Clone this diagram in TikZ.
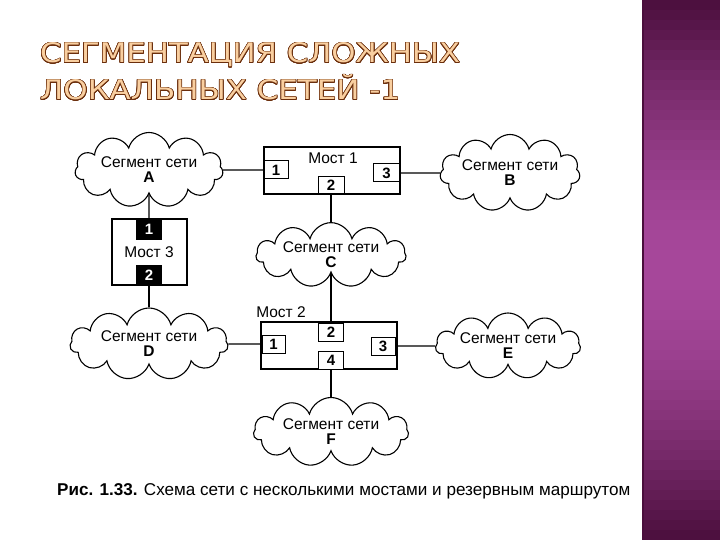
\documentclass[tikz,border=0pt]{standalone}
\usepackage{fontspec}
\setmainfont{Liberation Sans}
\newfontfamily\titlefont{DejaVu Sans}
\usepackage{graphicx}
\usepackage{contour}
\usetikzlibrary{shapes.symbols, positioning, backgrounds}
\definecolor{barmid}{HTML}{A6479A}
\definecolor{bardark}{HTML}{4A0E3C}
\definecolor{titlefill}{HTML}{F9CFA0}
\definecolor{titleedge}{HTML}{6B2E0C}
\contourlength{0.6pt}
\contournumber{24}
\newcommand{\titleline}[2]{\resizebox{#1}{20pt}{\titlefont\fontsize{28}{28}\selectfont\color{titlefill}\smash{\contour{titleedge}{#2}}\vphantom{С}}}

\begin{document}
\begin{tikzpicture}[x=1pt, y=-1pt,
    every node/.style={font=\fontsize{15.5}{15}\selectfont},
    seg/.style={cloud, draw, cloud puffs=11, cloud ignores aspect, fill=white,
                align=center, inner sep=0pt, line width=1.1pt},
    most/.style={rectangle, draw, fill=white, line width=1.1pt},
    port/.style={rectangle, draw, fill=white, line width=1pt, inner sep=0pt,
                 minimum width=24pt, minimum height=18pt,
                 font=\fontsize{15}{15}\selectfont\bfseries},
    dport/.style={port, fill=black, text=white},
    link/.style={line width=1.1pt}
]
    \useasboundingbox (0,0) rectangle (720,540);
    % title
    \node[anchor=base west, inner sep=0pt] (ttl1) at (40,63) {\titleline{420pt}{СЕГМЕНТАЦИЯ СЛОЖНЫХ}};
    \node[anchor=base west, inner sep=0pt] (ttl2) at (40,100) {\titleline{360pt}{ЛОКАЛЬНЫХ СЕТЕЙ -1}};

    % network segments
    \node[seg, minimum width=148pt, minimum height=75pt] (segA) at (149,170) {Сегмент сети\\\textbf{A}};
    \node[seg, minimum width=140pt, minimum height=77pt] (segB) at (510,173) {Сегмент сети\\\textbf{B}};
    \node[seg, minimum width=150pt, minimum height=64pt] (segC) at (331,255) {Сегмент сети\\\textbf{C}};
    \node[seg, minimum width=158pt, minimum height=72pt] (segD) at (149,344) {Сегмент сети\\\textbf{D}};
    \node[seg, minimum width=145pt, minimum height=66pt] (segE) at (508,346) {Сегмент сети\\\textbf{E}};
    \node[seg, minimum width=155pt, minimum height=69pt] (segF) at (331,432) {Сегмент сети\\\textbf{F}};

    % bridge 1
    \node[most, minimum width=136pt, minimum height=47pt] (m1) at (332,170.5) {};
    \node (m1lbl) at (333,158) {Мост 1};
    \node[port] (m1p1) at (276,170) {1};
    \node[port, minimum width=26pt, minimum height=17pt] (m1p2) at (331,185.5) {2};
    \node[port, minimum width=26pt] (m1p3) at (386.5,173) {3};

    % bridge 3
    \node[most, minimum width=75pt, minimum height=66pt] (m3) at (149.5,252) {};
    \node (m3lbl) at (149,252) {Мост 3};
    \node[dport, minimum width=25pt, minimum height=20pt] (m3p1) at (149,229) {1};
    \node[dport, minimum width=25pt, minimum height=20pt] (m3p2) at (149,275) {2};

    % bridge 2
    \node[most, minimum width=136pt, minimum height=47pt] (m2) at (329,345.5) {};
    \node (m2lbl) at (281,312) {Мост 2};
    \node[port, minimum width=23pt] (m2p1) at (273.5,344) {1};
    \node[port, minimum width=25pt] (m2p2) at (331,332) {2};
    \node[port] (m2p3) at (383,346) {3};
    \node[port, minimum width=25pt] (m2p4) at (331,360) {4};

    % caption
    \node[anchor=west, inner sep=0pt] (cap) at (57,491)
        {\resizebox{573pt}{!}{\textbf{Рис. 1.33.} Схема сети с несколькими мостами и резервным маршрутом}};

    \begin{scope}[on background layer]
        \fill[white] (0,0) rectangle (720,540);
        % purple side bar, dark at both ends
        \foreach \i in {0,...,53} {
            \pgfmathsetmacro\barmix{100*sin(180*(\i+0.5)/54)}
            \fill[barmid!\barmix!bardark] (642,\i*10) rectangle (720,\i*10+10.6);
        }
        \fill[bardark] (642,0) rectangle (643.5,540);
        \draw[link] (segA) -- (m1p1);
        \draw[link] (m1p3) -- (segB);
        \draw[link] (m1p2) -- (segC);
        \draw[link] (segA) -- (m3p1);
        \draw[link] (m3p2) -- (segD);
        \draw[link] (segD) -- (m2p1);
        \draw[link] (segC) -- (m2p2);
        \draw[link] (m2p3) -- (segE);
        \draw[link] (m2p4) -- (segF);
    \end{scope}
\end{tikzpicture}
\end{document}
